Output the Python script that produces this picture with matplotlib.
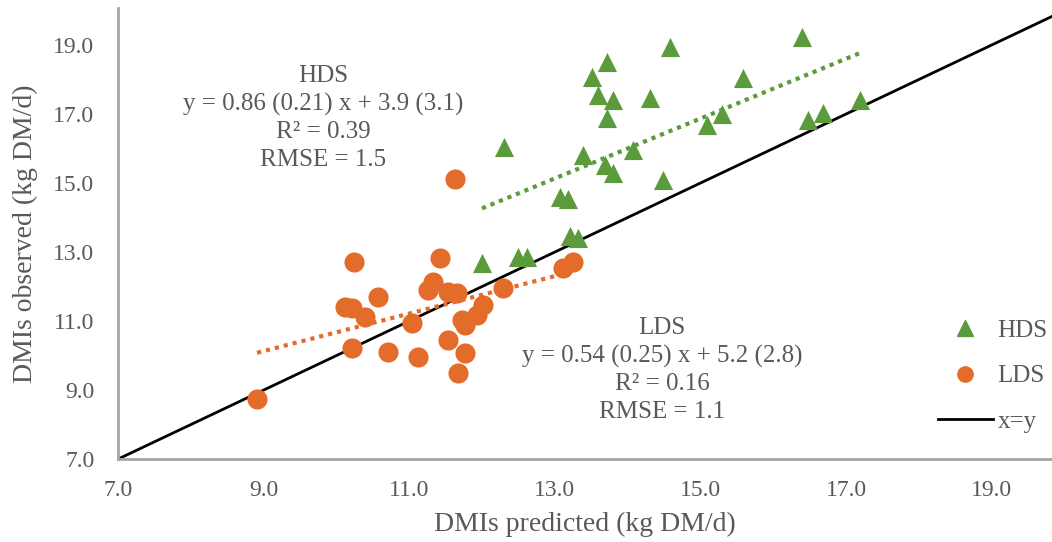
import numpy as np
import matplotlib
matplotlib.use("Agg")
import matplotlib.pyplot as plt
from matplotlib.lines import Line2D

plt.rcParams['font.family'] = ['Liberation Serif', 'DejaVu Serif']

# HDS group (predicted, observed)
hds_x = [12.00, 12.30, 12.49, 12.62, 13.07, 13.18, 13.21, 13.32, 13.39, 13.51,
         13.59, 13.69, 13.72, 13.72, 13.80, 13.80, 14.07, 14.31, 14.49, 14.58,
         15.09, 15.30, 15.59, 16.40, 16.48, 16.68, 17.19]
hds_y = [12.68, 16.04, 12.86, 12.86, 14.59, 14.54, 13.46, 13.41, 15.81, 18.07,
         17.55, 15.52, 18.51, 16.88, 17.41, 15.29, 15.96, 17.46, 15.09, 18.94,
         16.68, 17.00, 18.04, 19.23, 16.83, 17.03, 17.41]

# LDS group
lds_x = [8.91, 10.12, 10.22, 10.24, 10.39, 10.21, 10.57, 10.71, 11.04, 11.12,
         11.26, 11.33, 11.42, 11.53, 11.66, 11.63, 11.53, 11.73, 11.77, 11.77,
         11.67, 11.93, 12.01, 12.29, 13.11, 13.25]
lds_y = [8.74, 11.41, 11.38, 12.71, 11.12, 10.22, 11.70, 10.10, 10.94, 9.96,
         11.90, 12.13, 12.83, 11.84, 11.81, 15.12, 10.45, 11.03, 10.88, 10.07,
         9.49, 11.17, 11.46, 11.96, 12.54, 12.71]

hds_txt = ["HDS", "y = 0.86 (0.21) x + 3.9 (3.1)", "R\u00b2 = 0.39", "RMSE = 1.5"]
lds_txt = ["LDS", "y = 0.54 (0.25) x + 5.2 (2.8)", "R\u00b2 = 0.16", "RMSE = 1.1"]

ticks = [7.0, 9.0, 11.0, 13.0, 15.0, 17.0, 19.0]

green = '#5b9b3b'
orange = '#e46c2a'
grey = '#595959'

fig = plt.figure(figsize=(10.52, 5.42), dpi=100)
ax = fig.add_axes([0.1122, 0.153, 0.8878, 0.832])

ax.plot([7, 22], [7, 22], color='black', lw=2, zorder=1)

# trend lines fitted to each group, over the group's x range
for xs, ys, c in [(hds_x, hds_y, green), (lds_x, lds_y, orange)]:
    k, b = np.polyfit(xs, ys, 1)
    xr = np.array([min(xs), max(xs)])
    ax.plot(xr, k * xr + b, color=c, lw=3, linestyle=(0, (1, 1.2)), zorder=2)

ax.scatter(hds_x, hds_y, marker='^', s=190, color=green, linewidths=0, zorder=3)
ax.scatter(lds_x, lds_y, marker='o', s=210, color=orange, linewidths=0, zorder=3)

ax.set_xlim(7, 19.83)
ax.set_ylim(7, 20.07)
ax.set_xticks(ticks)
ax.set_yticks(ticks)
ax.set_xticklabels([f"{t:.1f}" for t in ticks])
ax.set_yticklabels([f"{t:.1f}" for t in ticks])
ax.tick_params(length=0, labelsize=17, labelcolor=grey)
ax.tick_params(axis='x', pad=15)
ax.tick_params(axis='y', pad=17)
for s in ['top', 'right']:
    ax.spines[s].set_visible(False)
for s in ['left', 'bottom']:
    ax.spines[s].set_color('#a6a6a6')
    ax.spines[s].set_linewidth(2)

ax.set_xlabel("DMIs predicted (kg DM/d)", fontsize=20, color=grey, labelpad=8)
ax.set_ylabel("DMIs observed (kg DM/d)", fontsize=20, color=grey, labelpad=11)

for i, t in enumerate(hds_txt):
    fig.text(323 / 1052, 1 - (76 + 28 * i) / 542, t, ha='center', va='center',
             fontsize=18, color=grey)
for i, t in enumerate(lds_txt):
    fig.text(662 / 1052, 1 - (328 + 28 * i) / 542, t, ha='center', va='center',
             fontsize=18, color=grey)

handles = [Line2D([], [], marker='^', color=green, ls='none', markersize=11),
           Line2D([], [], marker='o', color=orange, ls='none', markersize=11),
           Line2D([], [], color='black', lw=2)]
leg = ax.legend(handles, ["HDS", "LDS", "x=y"], loc='upper left',
                bbox_to_anchor=(925 / 1052, 1 - 307 / 542), bbox_transform=fig.transFigure,
                frameon=False, fontsize=18, labelspacing=0.92, handlelength=2.2,
                handletextpad=0.2, borderpad=0)
for t in leg.get_texts():
    t.set_color(grey)

fig.savefig("out.png", dpi=100)
